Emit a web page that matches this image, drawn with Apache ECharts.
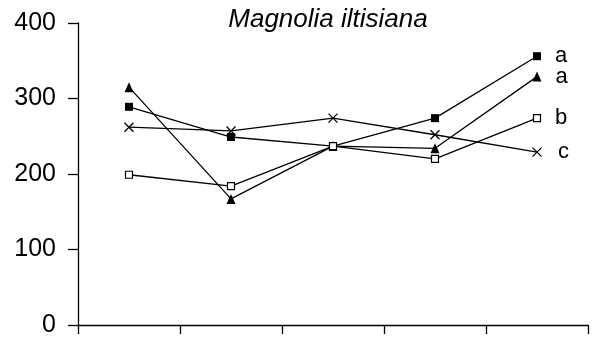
<!DOCTYPE html>
<html>
<head>
<meta charset="utf-8">
<script src="https://cdn.jsdelivr.net/npm/echarts@6/dist/echarts.min.js"></script>
<style>
  html, body { margin: 0; padding: 0; background: #fff; }
  #chart { width: 593px; height: 347px; }
</style>
</head>
<body>
<div id="chart"></div>
<script>
// Five sampling points along the x axis (no visible labels)
const categories = ['1', '2', '3', '4', '5'];

// Series values
const filledSquare = [289, 249, 237, 274, 356];
const filledTriangle = [315, 167, 237, 234, 329];
const openSquare = [199, 184, 237, 220, 274];
const crossMark = [262, 257, 274, 252, 229];

// Significance letters shown after the last point of each series
const endLetters = ['a', 'a', 'b', 'c'];

const yTicks = [0, 100, 200, 300, 400];

const crossPath = 'path://M0,0 L10,10 M10,0 L0,10';

function endLabel(letter) {
  return {
    show: true,
    position: 'right',
    distance: 14,
    formatter: function (p) {
      return p.dataIndex === categories.length - 1 ? letter : '';
    },
    color: '#000',
    fontFamily: 'Liberation Sans, Arial, sans-serif',
    fontSize: 22
  };
}

const baseLine = { color: '#000', width: 1.3 };

const chart = echarts.init(document.getElementById('chart'), null, { renderer: 'canvas' });
chart.setOption({
  animation: false,
  backgroundColor: '#fff',
  title: {
    text: 'Magnolia iltisiana',
    left: 323,
    textAlign: 'center',
    top: 2,
    textStyle: {
      fontFamily: 'Liberation Sans, Arial, sans-serif',
      fontStyle: 'italic',
      fontWeight: 'normal',
      fontSize: 26,
      color: '#000'
    }
  },
  grid: { left: 78, right: 5, top: 23, bottom: 22, containLabel: false },
  xAxis: {
    type: 'category',
    data: categories,
    boundaryGap: true,
    axisLine: { lineStyle: { color: '#000', width: 1.3 } },
    axisTick: { show: true, length: 9, lineStyle: { color: '#000', width: 1.3 } },
    axisLabel: { show: false },
    splitLine: { show: false }
  },
  yAxis: {
    type: 'value',
    min: yTicks[0],
    max: yTicks[yTicks.length - 1],
    interval: 100,
    axisLine: { show: true, lineStyle: { color: '#000', width: 1.3 } },
    axisTick: { show: true, length: 10, lineStyle: { color: '#000', width: 1.3 } },
    axisLabel: {
      margin: 22,
      color: '#000',
      fontFamily: 'Liberation Sans, Arial, sans-serif',
      fontSize: 25
    },
    splitLine: { show: false }
  },
  series: [
    {
      type: 'line',
      data: filledSquare,
      symbol: 'rect',
      symbolSize: 8,
      itemStyle: { color: '#000' },
      lineStyle: baseLine,
      label: endLabel(endLetters[0])
    },
    {
      type: 'line',
      data: filledTriangle,
      symbol: 'triangle',
      symbolSize: [9, 10],
      itemStyle: { color: '#000' },
      lineStyle: baseLine,
      label: endLabel(endLetters[1])
    },
    {
      type: 'line',
      data: openSquare,
      symbol: 'rect',
      symbolSize: 7,
      itemStyle: { color: '#fff', borderColor: '#000', borderWidth: 1.2 },
      lineStyle: baseLine,
      label: endLabel(endLetters[2])
    },
    {
      type: 'line',
      data: crossMark,
      symbol: crossPath,
      symbolSize: 9,
      itemStyle: { color: 'none', borderColor: '#000', borderWidth: 1.3 },
      lineStyle: baseLine,
      label: endLabel(endLetters[3])
    }
  ]
});
</script>
</body>
</html>
